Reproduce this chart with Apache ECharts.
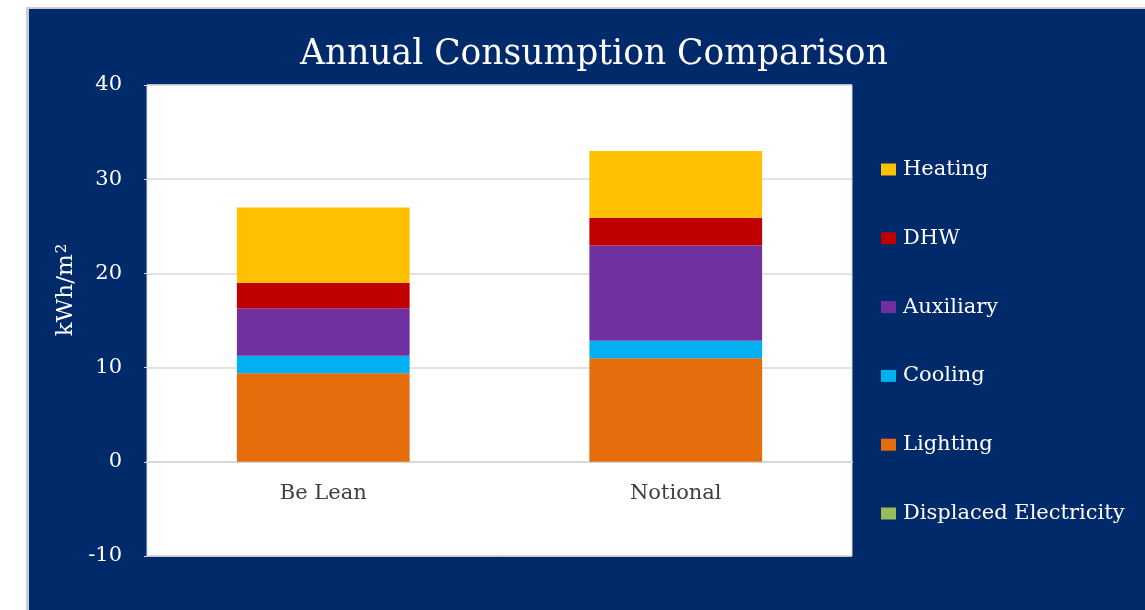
<!DOCTYPE html>
<html>
<head>
<meta charset="utf-8">
<script src="https://cdn.jsdelivr.net/npm/echarts@6/dist/echarts.min.js"></script>
<style>
  html, body { margin: 0; padding: 0; background: #ffffff; }
  #chart { position: absolute; left: 0; top: 0; width: 1145px; height: 610px; }
</style>
</head>
<body>
<div id="chart"></div>
<script>
const categories = ['Be Lean', 'Notional'];
const lighting = [9.4, 11.0];
const cooling = [1.85, 1.85];
const auxiliary = [5.05, 10.1];
const dhw = [2.7, 2.95];
const heating = [8.0, 7.1];
const displaced = [0, 0];
const yTicks = { min: -10, max: 40, interval: 10 };
const legendOrder = ['Heating', 'DHW', 'Auxiliary', 'Cooling', 'Lighting', 'Displaced Electricity'];

const FONT = 'DejaVu Serif';
const NAVY = '#012a6b';

const chart = echarts.init(document.getElementById('chart'), null, { renderer: 'canvas' });

function barSeries(name, data, color) {
  return {
    name: name, type: 'bar', stack: 'total', data: data,
    barWidth: '49%',
    itemStyle: { color: color },
    emphasis: { disabled: true }
  };
}

// grid geometry: plot spans y = -10 .. 40 over 471 px
const gridTop = 85, gridBottom = 54, plotHeight = 610 - gridTop - gridBottom;
const zeroOffset = plotHeight * (0 - yTicks.min) / (yTicks.max - yTicks.min);

const option = {
  backgroundColor: NAVY,
  animation: false,
  title: {
    text: 'Annual Consumption Comparison',
    left: 295,
    top: 33,
    textStyle: { color: '#ffffff', fontFamily: FONT, fontSize: 34.5, fontWeight: 'normal' }
  },
  legend: {
    orient: 'vertical',
    left: 876,
    top: 152.5,
    padding: 5,
    itemWidth: 15,
    itemHeight: 12,
    itemGap: 44.8,
    icon: 'rect',
    data: legendOrder,
    textStyle: { color: '#ffffff', fontFamily: FONT, fontSize: 21, lineHeight: 24, padding: [0, 0, 0, 2] }
  },
  grid: {
    left: 147, top: gridTop, right: 293, bottom: gridBottom,
    show: true, backgroundColor: '#ffffff', borderColor: '#d9d9d9', borderWidth: 1
  },
  xAxis: {
    type: 'category',
    data: categories,
    offset: -zeroOffset,
    axisLine: { onZero: false, lineStyle: { color: '#d9d9d9', width: 2 } },
    axisTick: { show: false },
    axisLabel: { color: '#404040', fontFamily: FONT, fontSize: 21, margin: 21 }
  },
  yAxis: {
    type: 'value',
    min: yTicks.min, max: yTicks.max, interval: yTicks.interval,
    axisLine: { show: false },
    axisTick: { show: true, length: 3, lineStyle: { color: '#d9d9d9' } },
    splitLine: { lineStyle: { color: '#d9d9d9', width: 1.5 } },
    axisLabel: { color: '#ffffff', fontFamily: FONT, fontSize: 21, margin: 25 }
  },
  graphic: [
    { type: 'rect', left: 0, top: 0, shape: { width: 26, height: 610 }, style: { fill: '#ffffff' }, silent: true },
    { type: 'rect', left: 0, top: 0, shape: { width: 1145, height: 7 }, style: { fill: '#ffffff' }, silent: true },
    { type: 'rect', left: 26, top: 7, shape: { width: 3, height: 603 }, style: { fill: '#c9ccd2' }, silent: true },
    { type: 'rect', left: 26, top: 7, shape: { width: 1119, height: 2 }, style: { fill: '#c9ccd2' }, silent: true },
    {
      type: 'text', x: 66, y: 290, rotation: Math.PI / 2,
      style: {
        text: 'kWh/m{s|2}', fill: '#ffffff', fontFamily: FONT, fontSize: 23,
        align: 'center', verticalAlign: 'middle',
        rich: { s: { fontFamily: FONT, fontSize: 15, fill: '#ffffff', verticalAlign: 'top', padding: [0, 0, 8, 1] } }
      },
      silent: true
    }
  ],
  series: [
    barSeries('Displaced Electricity', displaced, '#9bbb59'),
    barSeries('Lighting', lighting, '#e46c0a'),
    barSeries('Cooling', cooling, '#00b0f0'),
    barSeries('Auxiliary', auxiliary, '#7030a0'),
    barSeries('DHW', dhw, '#c00000'),
    barSeries('Heating', heating, '#ffc000')
  ]
};
chart.setOption(option);
</script>
</body>
</html>
